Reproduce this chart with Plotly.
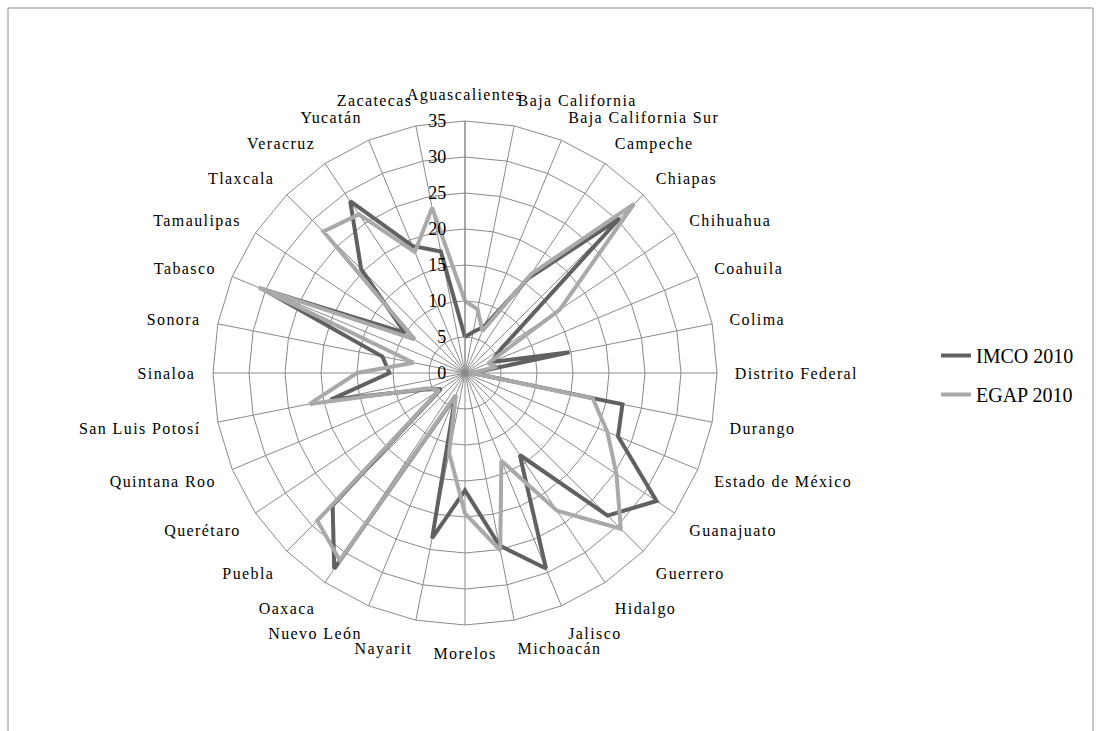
import plotly.graph_objects as go

states = ["Aguascalientes", "Baja California", "Baja California Sur", "Campeche", "Chiapas",
          "Chihuahua", "Coahuila", "Colima", "Distrito Federal", "Durango", "Estado de México",
          "Guanajuato", "Guerrero", "Hidalgo", "Jalisco", "Michoacán", "Morelos", "Nayarit",
          "Nuevo León", "Oaxaca", "Puebla", "Querétaro", "Quintana Roo", "San Luis Potosí",
          "Sinaloa", "Sonora", "Tabasco", "Tamaulipas", "Tlaxcala", "Veracruz", "Yucatán",
          "Zacatecas"]

imco_2010 = [5, 5.8, 7, 15.8, 30.4, 6, 4, 14.8, 1, 22.3, 23, 32, 28, 13.7, 29.4, 24.4, 16.3,
             23.4, 3.5, 32.7, 26, 4, 6, 19, 10.5, 11.7, 30.3, 10, 20.4, 28.7, 19.1, 17.2]
egap_2010 = [10, 9, 6.3, 16.5, 33.2, 15.8, 3.5, 4.5, 1, 18.1, 21.4, 25.3, 30.6, 23, 13.2,
             25.1, 19.5, 11.3, 3.3, 31.3, 29, 4.3, 5.5, 22, 15, 7.3, 31, 8.4, 27.8, 26.5,
             18.2, 23.4]

radial_ticks = [0, 5, 10, 15, 20, 25, 30, 35]

FONT = "Liberation Serif"
GRID = "#8a8a8a"

fig = go.Figure()
fig.add_trace(go.Scatterpolar(
    r=imco_2010 + imco_2010[:1], theta=states + states[:1], mode="lines",
    name="IMCO 2010", line=dict(color="#616161", width=4), legendgroup="a"))
fig.add_trace(go.Scatterpolar(
    r=egap_2010 + egap_2010[:1], theta=states + states[:1], mode="lines",
    name="EGAP 2010", line=dict(color="#a9a9a9", width=4), legendgroup="b"))

W, H = 1096, 731
cx, cy, R = 465, 373, 252

fig.update_layout(
    width=W, height=H,
    margin=dict(l=0, r=0, t=0, b=0),
    paper_bgcolor="white", plot_bgcolor="white",
    font=dict(family=FONT, size=17, color="black"),
    polar=dict(
        domain=dict(x=[(cx - R) / W, (cx + R) / W], y=[1 - (cy + R) / H, 1 - (cy - R) / H]),
        bgcolor="white",
        gridshape="linear",
        angularaxis=dict(rotation=90, direction="clockwise", type="category",
                         categoryarray=states, categoryorder="array",
                         showline=True, linecolor=GRID, linewidth=1,
                         gridcolor=GRID, gridwidth=1,
                         ticks="outside", ticklen=14, tickcolor="rgba(0,0,0,0)",
                         tickfont=dict(family=FONT, size=16, color="black")),
        radialaxis=dict(range=[0, 35], tickvals=radial_ticks, angle=90, tickangle=90,
                        side="counterclockwise", showline=True, linecolor=GRID, linewidth=1,
                        gridcolor=GRID, gridwidth=1, ticks="outside", ticklen=12,
                        tickcolor="rgba(0,0,0,0)",
                        tickfont=dict(family=FONT, size=18, color="black")),
    ),
    legend=dict(x=936 / W, y=1 - 336 / H, xanchor="left", yanchor="top",
                font=dict(family=FONT, size=20, color="black"),
                traceorder="grouped", tracegroupgap=10, bgcolor="rgba(0,0,0,0)"),
    showlegend=True,
    shapes=[dict(type="rect", xref="paper", yref="paper", x0=8 / W, x1=1093 / W,
                 y0=-0.05, y1=1 - 8 / H, line=dict(color="#8c8c8c", width=1))],
)

post = """
document.body.style.margin = '0';
document.documentElement.style.overflow = 'hidden';
document.querySelectorAll('.angularaxistick text').forEach(function(t){
  t.style.letterSpacing = '1.4px';
});
"""

fig.write_html("out.html", post_script=post, config={"displayModeBar": False})
